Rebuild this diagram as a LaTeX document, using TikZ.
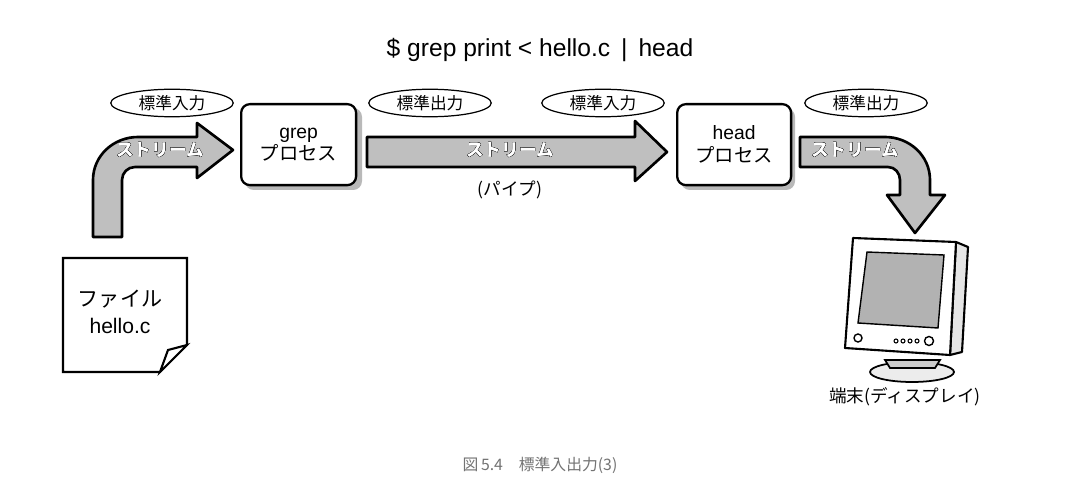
\documentclass[tikz,border=0pt]{standalone}
\usepackage{fontspec}
\setmainfont{Noto Sans CJK JP}
\newfontfamily\latinf{Liberation Sans}
\usetikzlibrary{shapes.geometric,calc}
\tikzset{
  proc/.style={draw,line width=1.3pt,rounded corners=5pt,fill=white,minimum width=2.3cm,minimum height=1.62cm,align=center,font=\fontsize{11}{13}\selectfont},
  shad/.style={fill=gray!55,rounded corners=5pt},
  lab/.style={draw,ellipse,line width=0.7pt,fill=white,minimum width=2.45cm,minimum height=0.55cm,inner sep=0pt,font=\fontsize{9.5}{11}\selectfont},
  arrowbody/.style={fill=gray!50,draw=black,line width=1.5pt,line join=round},
  txt/.style={font=\fontsize{10}{12}\selectfont},
}
\newcommand{\outl}[2]{%
  \foreach \dx/\dy in {-1/0,1/0,0/-1,0/1,-0.8/-0.8,0.8/0.8,-0.8/0.8,0.8/-0.8}{\node[font=\fontsize{10}{12}\selectfont\bfseries,text=black] at ($(#1)+(\dx*0.022,\dy*0.022)$) {#2};}
  \node[font=\fontsize{10}{12}\selectfont\bfseries,text=white] at (#1) {#2};}
\begin{document}
\begin{tikzpicture}[x=0.02cm,y=-0.02cm]
\useasboundingbox[fill=white] (0,0) rectangle (1078,486);
\node[font=\latinf\fontsize{14}{16}\selectfont] (title) at (540,50) {\$ grep print < hello.c \,|\, head};
% left arrow
\draw[arrowbody] (93,237) -- (93,180) to[out=90,in=180] (138,137) -- (197,137) -- (197,123) -- (233,150) -- (197,178) -- (197,167) -- (135,167) to[out=180,in=90] (122,180) -- (122,237) -- cycle;
% middle arrow
\draw[arrowbody] (367,137) -- (635,137) -- (635,121) -- (667,152) -- (635,181) -- (635,167) -- (367,167) -- cycle;
% right arrow
\draw[arrowbody] (800,137) -- (885,137) to[out=0,in=90] (930,180) -- (930,195) -- (945,195) -- (915,233) -- (887,195) -- (900,195) -- (900,180) to[out=90,in=0] (888,167) -- (800,167) -- cycle;
\coordinate (s1) at (160,150); \coordinate (s2) at (510,150); \coordinate (s3) at (855,150);
\outl{s1}{ストリーム}\outl{s2}{ストリーム}\outl{s3}{ストリーム}
% boxes
\fill[shad] (245,108) rectangle (362,190);
\node[proc,anchor=north west] (grep) at (240,103) {\latinf grep\\プロセス};
\fill[shad] (681,108) rectangle (795,190);
\node[proc,anchor=north west,minimum width=2.28cm] (head) at (676,103) {\latinf head\\プロセス};
\node[lab] (l1) at (172,103) {標準入力};
\node[lab] (l2) at (430,103) {標準出力};
\node[lab] (l3) at (603,103) {標準入力};
\node[lab] (l4) at (866,103) {標準出力};
\node[txt] (pipe) at (510,190) {(パイプ)};
% file
\draw[line width=1.2pt,fill=white] (63,258) -- (187,258) -- (187,345) -- (160,372) -- (63,372) -- cycle;
\draw[line width=1.2pt,fill=white] (187,345) -- (160,372) -- (168,350) -- cycle;
\node[align=center,font=\fontsize{12}{15}\selectfont] (file) at (120,312) {ファイル\\\latinf hello.c};
% monitor
\draw[line width=1pt,fill=gray!30] (857,370) ellipse (0 and 0);
\draw[line width=1pt,fill=gray!15] (912,372) ellipse (42 and 10);
\draw[line width=1pt,fill=gray!40] (885,360) -- (940,360) -- (935,368) -- (890,368) -- cycle;
\draw[line width=1.2pt,fill=gray!20,line join=round] (956,242) -- (968,247) -- (962,352) -- (950,355) -- cycle;
\draw[line width=1.2pt,fill=white,line join=round] (853,238) -- (956,242) -- (950,355) -- (845,348) -- cycle;
\draw[line width=0.8pt,fill=gray!60] (867,252) -- (944,255) -- (938,328) -- (858,323) -- cycle;
\draw[line width=0.8pt] (858,338) circle (4);
\foreach \xx in {896,903,910,917}{\draw[line width=0.6pt] (\xx,341) circle (2);}
\draw[line width=0.8pt] (929,341) circle (4.5);
\node[txt] (term) at (905,397) {端末(ディスプレイ)};
\node[text=gray!90!black,font=\fontsize{9}{11}\selectfont] (cap) at (540,465) {図\,5.4　標準入出力(3)};
\end{tikzpicture}
\end{document}
